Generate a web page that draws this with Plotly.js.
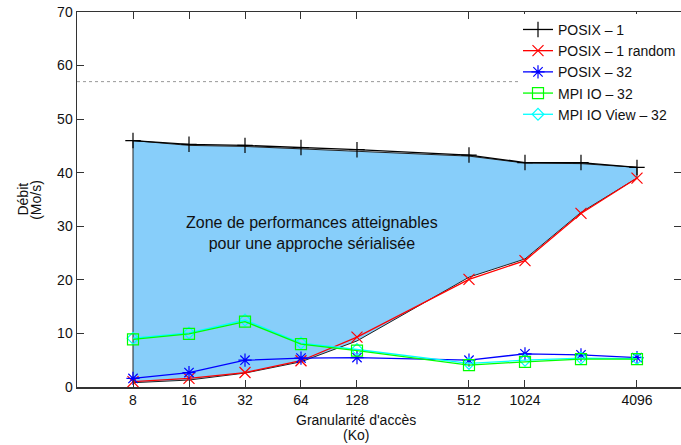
<!DOCTYPE html>
<html>
<head>
<meta charset="utf-8">
<script src="https://cdn.plot.ly/plotly-3.0.1.min.js"></script>
<style>html,body{margin:0;padding:0;background:#fff;}#chart{width:681px;height:445px;}</style>
</head>
<body>
<div id="chart"></div>
<script>
// Granularity (Ko)
const granularity = [8, 16, 32, 64, 128, 512, 1024, 2048, 4096];
const tickValues = [8, 16, 32, 64, 128, 512, 1024, 4096];
const tickLabels = ["8", "16", "32", "64", "128", "512", "1024", "4096"];
const yTicks = [0, 10, 20, 30, 40, 50, 60, 70];

// Series (Mo/s)
const posix1 = [46.0, 45.3, 45.1, 44.7, 44.3, 43.3, 41.9, 41.9, 41.0];
const posix1Random = [1.0, 1.6, 2.7, 4.9, 9.3, 20.1, 23.6, 32.4, 39.0];
const posix32 = [1.6, 2.7, 5.0, 5.4, 5.5, 5.0, 6.2, 6.0, 5.5];
const mpiIo32 = [8.9, 9.9, 12.2, 8.0, 6.8, 4.1, 4.7, 5.2, 5.2];
const mpiIoView32 = [9.1, 10.1, 12.5, 8.2, 7.0, 4.4, 5.0, 5.4, 5.3];

// Achievable zone boundaries
const zoneTop = [46.0, 45.1, 44.9, 44.5, 44.0, 43.1, 41.8, 41.7, 41.0];
const zoneBottom = [0.8, 1.3, 2.6, 4.7, 8.6, 20.5, 23.9, 32.6, 39.0];

const peakBandwidth = 57;
const zoneLabel = "Zone de performances atteignables<br>pour une approche sérialisée";
const zoneLabelX = 73;
const zoneLabelY = 28.7;

const seriesNames = ["POSIX – 1", "POSIX – 1 random", "POSIX – 32", "MPI IO – 32", "MPI IO View – 32"];
const xTitleLines = ["Granularité d'accès", "(Ko)"];
const yTitleLines = ["Débit", "(Mo/s)"];

const zoneX = granularity.concat(granularity.slice().reverse());
const zoneY = zoneTop.concat(zoneBottom.slice().reverse());
zoneX.push(granularity[0]);
zoneY.push(zoneTop[0]);

const FONT = 'Liberation Sans, Arial, sans-serif';

const traces = [
  {x: zoneX, y: zoneY, type: 'scatter', mode: 'lines', fill: 'toself',
   fillcolor: '#87cefa', line: {color: '#222', width: 1}, showlegend: false, hoverinfo: 'skip'},
  {x: granularity, y: posix1, name: seriesNames[0], legendrank: 1, type: 'scatter', mode: 'lines+markers',
   line: {color: '#000000', width: 1.3}, marker: {symbol: 'cross-thin-open', size: 11, line: {color: '#000000', width: 1.2}}},
  {x: granularity, y: posix1Random, name: seriesNames[1], legendrank: 2, type: 'scatter', mode: 'lines+markers',
   line: {color: '#ff0000', width: 1.3}, marker: {symbol: 'x-thin-open', size: 11, line: {color: '#ff0000', width: 1.2}}},
  {x: granularity, y: posix32, name: seriesNames[2], legendrank: 3, type: 'scatter', mode: 'lines+markers',
   line: {color: '#0000ff', width: 1.3}, marker: {symbol: 'asterisk-open', size: 11, line: {color: '#0000ff', width: 1.2}}},
  {x: granularity, y: mpiIoView32, name: seriesNames[4], legendrank: 5, type: 'scatter', mode: 'lines+markers',
   line: {color: '#00ffff', width: 1.3}, marker: {symbol: 'diamond-open', size: 9, line: {color: '#00ffff', width: 1.2}}},
  {x: granularity, y: mpiIo32, name: seriesNames[3], legendrank: 4, type: 'scatter', mode: 'lines+markers',
   line: {color: '#00ff00', width: 1.3}, marker: {symbol: 'square-open', size: 11, line: {color: '#00ff00', width: 1.2}}}
];

const axisCommon = {
  showline: true, linecolor: '#333', linewidth: 1.5, mirror: 'ticks',
  ticks: 'inside', ticklen: 7, tickcolor: '#333', tickwidth: 1,
  showgrid: false, zeroline: false,
  tickfont: {family: FONT, size: 14, color: '#111'}
};

const titleFont = {size: 14, family: FONT, color: '#111'};

const layout = {
  width: 681, height: 445,
  margin: {l: 77, r: 0, t: 12, b: 58},
  paper_bgcolor: '#fff', plot_bgcolor: '#fff',
  font: {family: FONT, color: '#111'},
  xaxis: Object.assign({}, axisCommon, {
    type: 'log', range: [Math.log10(4), Math.log10(Math.pow(2, 12.786))],
    tickmode: 'array', tickvals: tickValues, ticktext: tickLabels
  }),
  yaxis: Object.assign({}, axisCommon, {
    range: [0, 70], tickmode: 'array', tickvals: yTicks
  }),
  showlegend: true,
  legend: {
    x: 1, xanchor: 'right', y: 0.995, yanchor: 'top',
    bgcolor: 'rgba(255,255,255,1)', borderwidth: 0,
    font: {size: 14, family: FONT, color: '#111'},
    tracegroupgap: 0, itemwidth: 30, traceorder: 'normal'
  },
  shapes: [
    {type: 'line', xref: 'paper', x0: 0, x1: 1, yref: 'y', y0: peakBandwidth, y1: peakBandwidth,
     line: {color: '#999', width: 1, dash: 'dot'}, layer: 'below'}
  ],
  annotations: [
    {x: Math.log10(zoneLabelX), y: zoneLabelY, xref: 'x', yref: 'y', text: zoneLabel, showarrow: false,
     font: {size: 16, family: FONT, color: '#111'}, align: 'center'},
    {x: 0.462, y: -0.088, xref: 'paper', yref: 'paper', yanchor: 'middle', text: xTitleLines[0],
     showarrow: false, font: titleFont},
    {x: 0.462, y: -0.127, xref: 'paper', yref: 'paper', yanchor: 'middle', text: xTitleLines[1],
     showarrow: false, font: titleFont},
    {x: -0.091, y: 0.5, xref: 'paper', yref: 'paper', xanchor: 'center', yanchor: 'middle', textangle: -90,
     text: yTitleLines[0], showarrow: false, font: titleFont},
    {x: -0.069, y: 0.5, xref: 'paper', yref: 'paper', xanchor: 'center', yanchor: 'middle', textangle: -90,
     text: yTitleLines[1], showarrow: false, font: titleFont}
  ]
};

Plotly.newPlot('chart', traces, layout, {displayModeBar: false, staticPlot: true});
</script>
</body>
</html>
